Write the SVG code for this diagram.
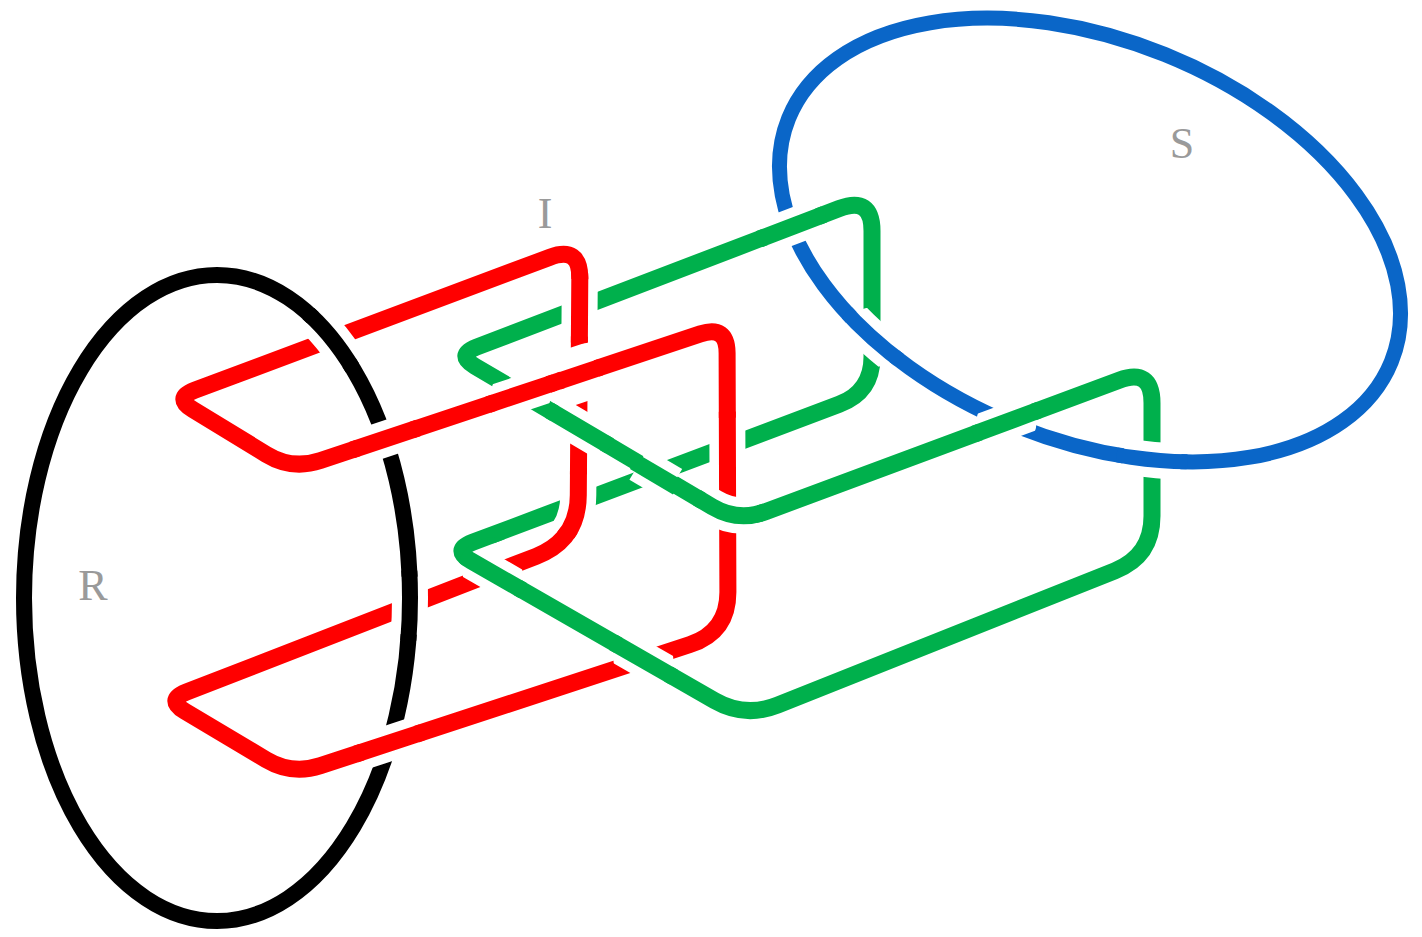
<svg xmlns="http://www.w3.org/2000/svg" width="1422" height="937" viewBox="0 0 1422 937">
<style>
 .k{fill:none;stroke:#000;stroke-width:16}
 .b{fill:none;stroke:#0a66c8;stroke-width:15}
 .r{fill:none;stroke:#ff0000;stroke-width:17;stroke-linejoin:round}
 .g{fill:none;stroke:#00b04c;stroke-width:17;stroke-linejoin:round}
 .h{fill:none;stroke:#fff;stroke-width:36}
 .hw{fill:none;stroke:#fff;stroke-width:56}
 .lbl{font-family:"Liberation Serif","Times New Roman",serif;font-size:44px;fill:#9a9a9a;text-anchor:middle}
</style>
<defs>
 <ellipse id="eR" cx="217" cy="598" rx="193" ry="323"/>
 <ellipse id="eS" cx="1090" cy="240" rx="325" ry="200" transform="rotate(22 1090 240)"/>
 <path id="pRed" d="M579.8,278 Q580,246 550,257.2 L194.6,390.3 Q174,398 192.8,409.5 L266.4,454.4 Q292,470 320.5,460.5 L700.4,333.9 Q727,325 727.1,353 L727.9,592 Q728,632 690,644.5 L320.5,765.7 Q292,775 266.2,759.7 L184.9,711.3 Q166,700 186.5,692 L536.1,556.3 Q578,540 578.3,495 Z"/>
 <path id="pGreen" d="M872,231 Q872,196 839.3,208.5 L476.5,347.1 Q456,355 474.9,366.2 L712.2,506.7 Q738,522 766.1,511.5 L1119.2,380.2 Q1152,368 1152,403 L1152,516 Q1152,556 1114.8,570.8 L777.5,705.1 Q745,718 714.6,700.6 L471.1,560.9 Q452,550 472.6,542.3 L839.2,404.3 Q872,392 872,357 Z"/>
 <clipPath id="h1"><circle cx="332.5" cy="339" r="30"/></clipPath><clipPath id="c1"><circle cx="332.5" cy="339" r="36"/></clipPath>
 <clipPath id="h2"><circle cx="385" cy="439" r="30"/></clipPath><clipPath id="c2"><circle cx="385" cy="439" r="36"/></clipPath>
 <clipPath id="h3"><circle cx="409.5" cy="605.5" r="30"/></clipPath><clipPath id="c3"><circle cx="409.5" cy="605.5" r="36"/></clipPath>
 <clipPath id="h4"><circle cx="389" cy="743.5" r="30"/></clipPath><clipPath id="c4"><circle cx="389" cy="743.5" r="36"/></clipPath>
 <clipPath id="h6"><circle cx="579.5" cy="307.7" r="30"/></clipPath><clipPath id="c6"><circle cx="579.5" cy="307.7" r="36"/></clipPath>
 <clipPath id="h7"><circle cx="521.2" cy="393.6" r="30"/></clipPath><clipPath id="c7"><circle cx="521.2" cy="393.6" r="36"/></clipPath>
 <clipPath id="h8"><circle cx="579.5" cy="428.1" r="30"/></clipPath><clipPath id="c8"><circle cx="579.5" cy="428.1" r="36"/></clipPath>
 <clipPath id="h9"><circle cx="727.5" cy="446.4" r="30"/></clipPath><clipPath id="c9"><circle cx="727.5" cy="446.4" r="36"/></clipPath>
 <clipPath id="h10"><circle cx="728" cy="513.5" r="30"/></clipPath><clipPath id="c10"><circle cx="728" cy="513.5" r="36"/></clipPath>
 <clipPath id="h11"><circle cx="578" cy="503" r="30"/></clipPath><clipPath id="c11"><circle cx="578" cy="503" r="36"/></clipPath>
 <clipPath id="h12"><circle cx="492.6" cy="573.2" r="30"/></clipPath><clipPath id="c12"><circle cx="492.6" cy="573.2" r="36"/></clipPath>
 <clipPath id="h13"><circle cx="643.4" cy="659.8" r="30"/></clipPath><clipPath id="c13"><circle cx="643.4" cy="659.8" r="36"/></clipPath>
 <clipPath id="h15"><circle cx="791.5" cy="226.8" r="30"/></clipPath><clipPath id="c15"><circle cx="791.5" cy="226.8" r="36"/></clipPath>
 <clipPath id="h16"><circle cx="872" cy="337.5" r="30"/></clipPath><clipPath id="c16"><circle cx="872" cy="337.5" r="36"/></clipPath>
 <clipPath id="h17"><circle cx="1006.5" cy="422" r="30"/></clipPath><clipPath id="c17"><circle cx="1006.5" cy="422" r="36"/></clipPath>
 <clipPath id="h18"><circle cx="1152" cy="460" r="30"/></clipPath><clipPath id="c18"><circle cx="1152" cy="460" r="36"/></clipPath>
</defs>
<rect width="1422" height="937" fill="#fff"/>

<g id="node-R">
 <use href="#eR" class="k"/>
 <text class="lbl" x="93" y="600">R</text>
</g>
<g id="node-S">
 <use href="#eS" class="b"/>
 <text class="lbl" x="1182" y="158">S</text>
</g>
<g id="node-I">
 <use href="#pRed" class="r"/>
 <use href="#pGreen" class="g"/>
 <text class="lbl" x="545" y="228">I</text>
</g>

<g id="crossings">
 <!-- black over red -->
 <use href="#eR" class="h" clip-path="url(#h1)"/><use href="#eR" class="k" clip-path="url(#c1)"/>
 <use href="#eR" class="h" clip-path="url(#h3)"/><use href="#eR" class="k" clip-path="url(#c3)"/>
 <!-- red over black -->
 <use href="#pRed" class="h" clip-path="url(#h2)"/><use href="#pRed" class="r" clip-path="url(#c2)"/>
 <use href="#pRed" class="h" clip-path="url(#h4)"/><use href="#pRed" class="r" clip-path="url(#c4)"/>
 <!-- red self crossing -->
 <line class="hw" x1="562.4" y1="379.9" x2="596.6" y2="368.5"/>
 <line class="r" x1="558.6" y1="381.2" x2="600.4" y2="367.2"/>
 <!-- red over green -->
 <use href="#pRed" class="h" clip-path="url(#h6)"/><use href="#pRed" class="r" clip-path="url(#c6)"/>
 <use href="#pRed" class="h" clip-path="url(#h7)"/><use href="#pRed" class="r" clip-path="url(#c7)"/>
 <use href="#pRed" class="h" clip-path="url(#h9)"/><use href="#pRed" class="r" clip-path="url(#c9)"/>
 <use href="#pRed" class="h" clip-path="url(#h11)"/><use href="#pRed" class="r" clip-path="url(#c11)"/>
 <!-- green over red -->
 <use href="#pGreen" class="h" clip-path="url(#h8)"/><use href="#pGreen" class="g" clip-path="url(#c8)"/>
 <use href="#pGreen" class="h" clip-path="url(#h10)"/><use href="#pGreen" class="g" clip-path="url(#c10)"/>
 <use href="#pGreen" class="h" clip-path="url(#h12)"/><use href="#pGreen" class="g" clip-path="url(#c12)"/>
 <use href="#pGreen" class="h" clip-path="url(#h13)"/><use href="#pGreen" class="g" clip-path="url(#c13)"/>
 <!-- green self crossing -->
 <line class="h" x1="638.6" y1="464.2" x2="673" y2="484.6"/>
 <line class="g" x1="634.3" y1="461.7" x2="677.3" y2="487.1"/>
 <!-- green over blue -->
 <use href="#pGreen" class="h" clip-path="url(#h15)"/><use href="#pGreen" class="g" clip-path="url(#c15)"/>
 <use href="#pGreen" class="h" clip-path="url(#h17)"/><use href="#pGreen" class="g" clip-path="url(#c17)"/>
 <!-- blue over green -->
 <use href="#eS" class="h" clip-path="url(#h16)"/><use href="#eS" class="b" clip-path="url(#c16)"/>
 <use href="#eS" class="h" clip-path="url(#h18)"/><use href="#eS" class="b" clip-path="url(#c18)"/>
</g>
</svg>
